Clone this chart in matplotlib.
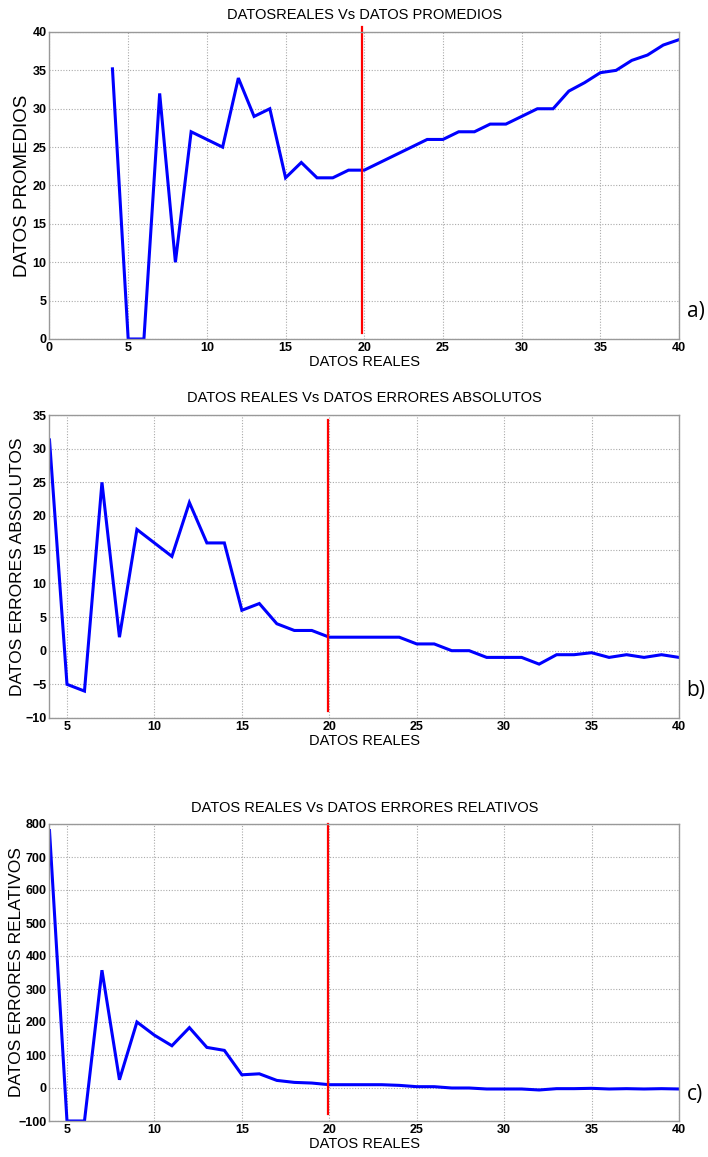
import numpy as np
import matplotlib
matplotlib.use("Agg")
import matplotlib.pyplot as plt

# datos
x_prom = [4, 5, 6, 7, 8, 9, 10, 11, 12, 13, 14, 15, 16, 17, 18, 19, 20, 21, 22, 23,
          24, 25, 26, 27, 28, 29, 30, 31, 32, 33, 34, 35, 36, 37, 38, 39, 40]
promedios = [35.2, 0, 0, 32, 10, 27, 26, 25, 34, 29, 30, 21, 23, 21, 21, 22, 22, 23, 24, 25,
             26, 26, 27, 27, 28, 28, 29, 30, 30, 32.3, 33.4, 34.7, 35, 36.3, 37, 38.3, 39]
err_abs = [31.3, -5, -6, 25, 2, 18, 16, 14, 22, 16, 16, 6, 7, 4, 3, 3, 2, 2, 2, 2,
           2, 1, 1, 0, 0, -1, -1, -1, -2, -0.6, -0.6, -0.3, -1, -0.6, -1, -0.6, -1]
err_rel = [780, -100, -100, 357, 25, 200, 160, 128, 183, 123, 114, 40, 43, 23, 17, 15, 10, 10, 10, 10,
           8, 4, 4, 0, 0, -3, -3, -3, -6, -2, -2, -1, -3, -2, -3, -2, -3]

corte_x = [19.85, 19.9, 19.9]
corte_y = [(0.8, 40.6), (-9.0, 34.3), (-80, 800)]

titulos = ["DATOSREALES Vs DATOS PROMEDIOS",
           "DATOS REALES Vs DATOS ERRORES ABSOLUTOS",
           "DATOS REALES Vs DATOS ERRORES RELATIVOS"]
ylabels = ["DATOS PROMEDIOS", "DATOS ERRORES ABSOLUTOS", "DATOS ERRORES RELATIVOS"]
letras = ["a)", "b)", "c)"]

xlims = [(0, 40), (4, 40), (4, 40)]
ylims = [(0, 40), (-10, 35), (-100, 800)]
yticks = [np.arange(0, 41, 5), np.arange(-10, 36, 5), np.arange(-100, 801, 100)]
xticks = [np.arange(0, 41, 5), np.arange(5, 41, 5), np.arange(5, 41, 5)]
series = [promedios, err_abs, err_rel]

sans = ['Liberation Sans', 'DejaVu Sans']

fig = plt.figure(figsize=(7.08, 11.57), dpi=100)
W, H = 708, 1157
left, right = 49.5, 679
boxes = [(32, 339), (415, 718), (824, 1121)]
ylab_x = [-0.030, -0.039, -0.040]
ylab_size = [13.5, 12.5, 12.5]

for i, (top, bot) in enumerate(boxes):
    ax = fig.add_axes([left / W, 1 - bot / H, (right - left) / W, (bot - top) / H])
    ax.plot(x_prom, series[i], color='#0000ff', lw=2.2, solid_joinstyle='miter')
    ax.plot([corte_x[i], corte_x[i]], corte_y[i], color='#ff0000', lw=1.6, clip_on=False)
    ax.set_xlim(*xlims[i])
    ax.set_ylim(*ylims[i])
    ax.set_xticks(xticks[i])
    ax.set_yticks(yticks[i])
    ax.grid(True, color='#aaaaaa', linestyle=(0, (1, 1.5)), lw=0.8)
    for s in ax.spines.values():
        s.set_color('#999999')
        s.set_linewidth(1.0)
    ax.tick_params(length=0, pad=2)
    for lab in ax.get_xticklabels() + ax.get_yticklabels():
        lab.set_family(sans)
        lab.set_fontsize(9)
        lab.set_fontweight('bold')
    ax.set_title(titulos[i], family=sans, fontsize=10.5, pad=9)
    ax.set_xlabel("DATOS REALES", family=sans, fontsize=10.5, labelpad=1)
    ax.set_ylabel(ylabels[i], family=sans, fontsize=ylab_size[i])
    ax.yaxis.set_label_coords(ylab_x[i], 0.5)
    ax.text(1.012, 0.09, letras[i], transform=ax.transAxes, family=['Open Sans', 'DejaVu Sans'],
            fontsize=15, va='center', ha='left')

fig.savefig("out.png", dpi=100)
